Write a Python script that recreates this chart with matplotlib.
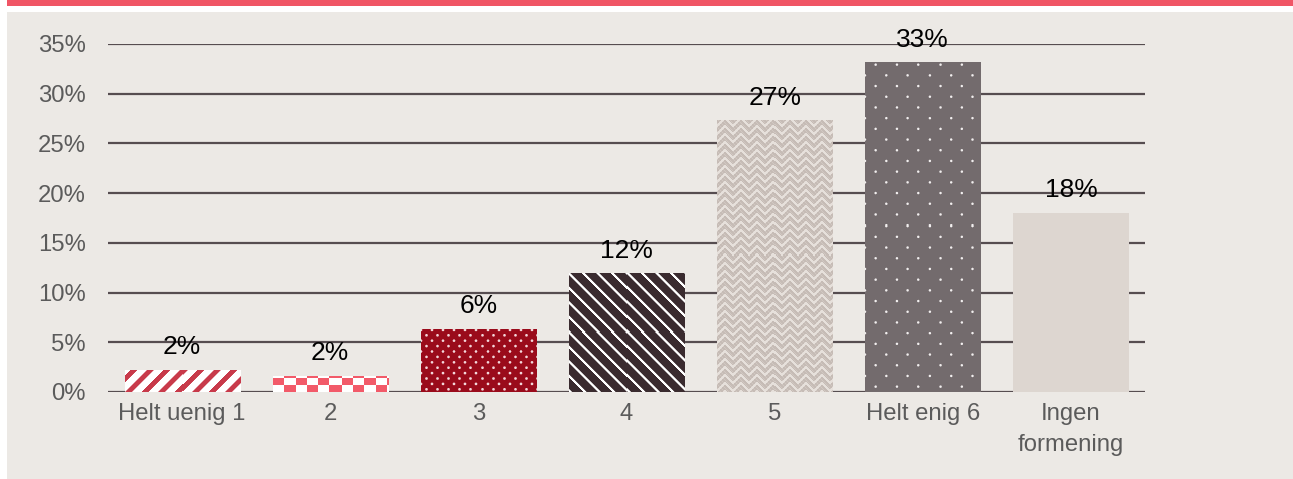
import matplotlib
matplotlib.use("Agg")
import matplotlib.pyplot as plt
import numpy as np
from matplotlib.patches import Rectangle

# Data
categories = ["Helt uenig 1", "2", "3", "4", "5", "Helt enig 6", "Ingen\nformening"]
values = [2.2, 1.6, 6.3, 11.9, 27.3, 33.1, 18.0]
labels = ["2%", "2%", "6%", "12%", "27%", "33%", "18%"]
yticks = [0, 5, 10, 15, 20, 25, 30, 35]

plt.rcParams["font.family"] = ["Liberation Sans", "DejaVu Sans"]

BG = "#ECE9E5"
GRID = "#564D50"
TICK = "#5B5B5B"

W, H = 1293, 479
fig = plt.figure(figsize=(W / 100, H / 100), dpi=100, facecolor="white")
fig.patches.append(Rectangle((7 / W, 0), 1, 1 - 12 / H, transform=fig.transFigure,
                             facecolor=BG, edgecolor="none", zorder=-10))
fig.patches.append(Rectangle((7 / W, 1 - 6 / H), 1, 6 / H, transform=fig.transFigure,
                             facecolor="#F05565", edgecolor="none", zorder=-10))

ax = fig.add_axes([108 / W, 1 - 392 / H, (1145 - 108) / W, (392 - 44) / H])
ax.set_facecolor("none")
x = np.arange(len(categories))
width = 0.777
ax.set_xlim(-0.5, len(categories) - 0.5)
ax.set_ylim(0, 35)


def rgb(h):
    h = h.lstrip("#")
    return np.array([int(h[i:i + 2], 16) for i in (0, 2, 4)]) / 255.0


def blend(a, b, m):
    return a[None, None, :] * (1 - m[..., None]) + b[None, None, :] * m[..., None]


# fill textures, built in pixel units
def stripes(X, Y, period, frac, fg, bg):
    t = ((X + Y) % period) / period
    d = np.minimum(np.abs(t - frac / 2), 1 - np.abs(t - frac / 2))
    m = np.clip((frac / 2 - d) * period + 0.5, 0, 1)
    return blend(rgb(bg), rgb(fg), m)


def dots(X, Y, dx, dy, r, fg, bg):
    row = np.floor(Y / dy)
    cx = (X + (row % 2) * dx / 2) % dx - dx / 2
    cy = Y % dy - dy / 2
    d = np.sqrt(cx ** 2 + cy ** 2)
    m = np.clip(r + 0.5 - d, 0, 1)
    return blend(rgb(bg), rgb(fg), m)


def checker(X, Y, cw, chh, fg, bg):
    m = ((np.floor(X / cw) + np.floor(Y / chh)) % 2).astype(float)
    return blend(rgb(bg), rgb(fg), m)


def zigzag(X, Y, fg, bg):
    tri = np.abs((X % 16) - 8)
    m1 = (((Y + tri) % 8) < 2.2).astype(float)
    m2 = (((X + Y) % 4) < 1).astype(float) * 0.35
    m = np.clip(m1 + m2 * (1 - m1), 0, 1)
    return blend(rgb(bg), rgb(fg), m)


def texture(i, wpx, hpx):
    X, Y = np.meshgrid(np.arange(wpx) + 0.5, np.arange(hpx) + 0.5)
    if i == 0:
        return stripes(X, -Y, 16.5, 0.42, "#C83A4A", "#FFFFFF")
    if i == 1:
        return checker(X, Y, 11.3, 7, "#F25A69", "#FFFFFF")
    if i == 2:
        return dots(X, Y, 11, 5.4, 1.3, "#F3D6DA", "#9A0B1B")
    if i == 3:
        return stripes(X, Y, 14.5, 0.22, "#FFFFFF", "#3A2B2F")
    if i == 4:
        return zigzag(X, Y, "#E6E0DB", "#C6BCB6")
    if i == 5:
        return dots(X, Y, 21.3, 10.7, 1.2, "#F2EFEF", "#736B6D")
    return np.ones((hpx, wpx, 3)) * rgb("#DDD6D0")[None, None, :]


ax.set_yticks(yticks)
ax.yaxis.grid(True, color=GRID, lw=1.6, zorder=0)
ax.set_axisbelow(True)

bars = ax.bar(x, values, width=width, color="none", edgecolor="none", zorder=2)
for i, (b, v) in enumerate(zip(bars, values)):
    x0, x1 = b.get_x(), b.get_x() + b.get_width()
    p0 = ax.transData.transform((x0, 0))
    p1 = ax.transData.transform((x1, v))
    wpx = max(int(round(p1[0] - p0[0])), 1)
    hpx = max(int(round(p1[1] - p0[1])), 1)
    ax.imshow(texture(i, wpx, hpx), extent=(x0, x1, 0, v), origin="lower",
              aspect="auto", interpolation="nearest", zorder=3)
    ax.annotate(labels[i], (x[i], v), xytext=(0, 16), textcoords="offset pixels",
                ha="center", va="baseline", fontsize=19, color="black",
                annotation_clip=False, zorder=5)

ax.set_xlim(-0.5, len(categories) - 0.5)
ax.set_ylim(0, 35)
ax.set_xticks(x)
ax.set_xticklabels(categories, fontsize=17.2, color=TICK, linespacing=1.55)
ax.set_yticklabels([f"{t}%" for t in yticks], fontsize=17.2, color=TICK)
ax.tick_params(axis="both", length=0)
ax.tick_params(axis="x", pad=8)
ax.tick_params(axis="y", pad=16)
for s in ax.spines.values():
    s.set_visible(False)

fig.savefig("out.png", dpi=100, facecolor="white")
